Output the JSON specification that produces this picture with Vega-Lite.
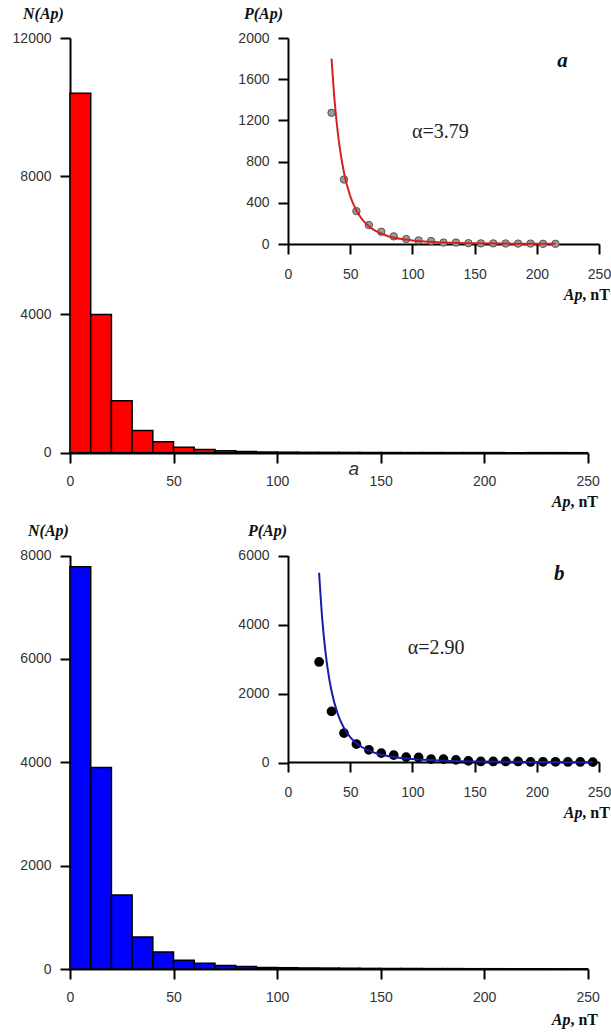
{
  "$schema": "https://vega.github.io/schema/vega-lite/v6.json",
  "width": 611,
  "height": 1034,
  "autosize": {"type": "none"},
  "padding": 0,
  "background": "white",
  "config": {
    "view": {"stroke": null},
    "axis": {
      "grid": false,
      "domainColor": "black",
      "domainWidth": 2,
      "tickColor": "black",
      "tickWidth": 2,
      "tickSize": 10,
      "labelFont": "Liberation Sans",
      "labelFontSize": 14,
      "labelColor": "#333333",
      "format": "d",
      "titleFont": "Liberation Serif",
      "titleFontSize": 16,
      "titleFontWeight": "bold",
      "titleFontStyle": "italic",
      "titleColor": "#111111"
    },
    "axisX": {"labelPadding": 11, "labelFlush": false, "labelOverlap": false},
    "axisY": {"labelPadding": 9, "titleAngle": 0, "titleAlign": "center", "titleBaseline": "middle", "labelOverlap": false},
    "text": {"font": "Liberation Serif", "fontSize": 16, "fontWeight": "bold", "color": "#111111", "baseline": "middle", "align": "right"}
  },
  "datasets": {
    "one": [{"k": 1}],
    "histA": [
      {"start": 0, "end": 10, "count": 10400},
      {"start": 10, "end": 20, "count": 4000},
      {"start": 20, "end": 30, "count": 1500},
      {"start": 30, "end": 40, "count": 640},
      {"start": 40, "end": 50, "count": 320},
      {"start": 50, "end": 60, "count": 160},
      {"start": 60, "end": 70, "count": 90},
      {"start": 70, "end": 80, "count": 55},
      {"start": 80, "end": 90, "count": 35},
      {"start": 90, "end": 100, "count": 20},
      {"start": 100, "end": 110, "count": 15},
      {"start": 110, "end": 120, "count": 12},
      {"start": 120, "end": 130, "count": 10},
      {"start": 130, "end": 140, "count": 8},
      {"start": 140, "end": 150, "count": 6},
      {"start": 150, "end": 160, "count": 5},
      {"start": 160, "end": 170, "count": 4},
      {"start": 170, "end": 180, "count": 4},
      {"start": 180, "end": 190, "count": 3},
      {"start": 190, "end": 200, "count": 3},
      {"start": 200, "end": 210, "count": 3},
      {"start": 210, "end": 220, "count": 2},
      {"start": 220, "end": 230, "count": 2},
      {"start": 230, "end": 240, "count": 2},
      {"start": 240, "end": 250, "count": 1}
    ],
    "histB": [
      {"start": 0, "end": 10, "count": 7780},
      {"start": 10, "end": 20, "count": 3900},
      {"start": 20, "end": 30, "count": 1430},
      {"start": 30, "end": 40, "count": 620},
      {"start": 40, "end": 50, "count": 330},
      {"start": 50, "end": 60, "count": 170},
      {"start": 60, "end": 70, "count": 110},
      {"start": 70, "end": 80, "count": 70},
      {"start": 80, "end": 90, "count": 50},
      {"start": 90, "end": 100, "count": 30},
      {"start": 100, "end": 110, "count": 25},
      {"start": 110, "end": 120, "count": 20},
      {"start": 120, "end": 130, "count": 18},
      {"start": 130, "end": 140, "count": 15},
      {"start": 140, "end": 150, "count": 12},
      {"start": 150, "end": 160, "count": 10},
      {"start": 160, "end": 170, "count": 10},
      {"start": 170, "end": 180, "count": 8},
      {"start": 180, "end": 190, "count": 8},
      {"start": 190, "end": 200, "count": 6},
      {"start": 200, "end": 210, "count": 6},
      {"start": 210, "end": 220, "count": 5},
      {"start": 220, "end": 230, "count": 5},
      {"start": 230, "end": 240, "count": 4},
      {"start": 240, "end": 250, "count": 4}
    ],
    "ptsA": [
      {"ap": 35, "p": 1274},
      {"ap": 45, "p": 626},
      {"ap": 55, "p": 319},
      {"ap": 65, "p": 184},
      {"ap": 75, "p": 119},
      {"ap": 85, "p": 74},
      {"ap": 95, "p": 48},
      {"ap": 105, "p": 35},
      {"ap": 115, "p": 29},
      {"ap": 125, "p": 14},
      {"ap": 135, "p": 14},
      {"ap": 145, "p": 8},
      {"ap": 155, "p": 6},
      {"ap": 165, "p": 6},
      {"ap": 175, "p": 5},
      {"ap": 185, "p": 4},
      {"ap": 195, "p": 4},
      {"ap": 205, "p": 2},
      {"ap": 215, "p": 2}
    ],
    "fitA": [
      {"ap": 35, "p": 1800},
      {"ap": 37.5, "p": 1386},
      {"ap": 40, "p": 1085},
      {"ap": 42.5, "p": 862},
      {"ap": 45, "p": 694},
      {"ap": 50, "p": 466},
      {"ap": 55, "p": 325},
      {"ap": 60, "p": 233},
      {"ap": 65, "p": 172},
      {"ap": 70, "p": 130},
      {"ap": 80, "p": 78},
      {"ap": 90, "p": 50},
      {"ap": 100, "p": 34},
      {"ap": 120, "p": 17},
      {"ap": 150, "p": 7},
      {"ap": 180, "p": 3.6},
      {"ap": 215, "p": 1.8}
    ],
    "ptsB": [
      {"ap": 25, "p": 2914},
      {"ap": 35, "p": 1481},
      {"ap": 45, "p": 852},
      {"ap": 55, "p": 532},
      {"ap": 65, "p": 368},
      {"ap": 75, "p": 271},
      {"ap": 85, "p": 213},
      {"ap": 95, "p": 155},
      {"ap": 105, "p": 145},
      {"ap": 115, "p": 97},
      {"ap": 125, "p": 97},
      {"ap": 135, "p": 77},
      {"ap": 145, "p": 48},
      {"ap": 155, "p": 30},
      {"ap": 165, "p": 30},
      {"ap": 175, "p": 30},
      {"ap": 185, "p": 30},
      {"ap": 195, "p": 15},
      {"ap": 205, "p": 20},
      {"ap": 215, "p": 20},
      {"ap": 225, "p": 15},
      {"ap": 235, "p": 15},
      {"ap": 245, "p": 10}
    ],
    "fitB": [
      {"ap": 25, "p": 5500},
      {"ap": 27.5, "p": 4172},
      {"ap": 30, "p": 3242},
      {"ap": 32.5, "p": 2570},
      {"ap": 35, "p": 2073},
      {"ap": 40, "p": 1407},
      {"ap": 45, "p": 1000},
      {"ap": 50, "p": 737},
      {"ap": 60, "p": 434},
      {"ap": 70, "p": 278},
      {"ap": 80, "p": 189},
      {"ap": 100, "p": 99},
      {"ap": 125, "p": 52},
      {"ap": 150, "p": 30},
      {"ap": 200, "p": 13},
      {"ap": 245, "p": 7}
    ]
  },
  "layer": [
    {
      "layer": [
        {
          "data": {"name": "histA"},
          "mark": {"type": "bar", "fill": "#ff0000", "stroke": "black", "strokeWidth": 1.5},
          "encoding": {
            "x": {"field": "start", "type": "quantitative",
              "scale": {"domain": [0, 250], "range": [70, 587.7], "nice": false, "zero": false},
              "axis": {"orient": "bottom", "offset": -581, "values": [0, 50, 100, 150, 200, 250], "title": null}},
            "x2": {"field": "end"},
            "y": {"field": "count", "type": "quantitative",
              "scale": {"domain": [0, 12000], "range": [452.7, 38], "nice": false},
              "axis": {"orient": "left", "offset": -70, "values": [0, 4000, 8000, 12000], "title": "N(Ap)", "titleX": -27, "titleY": 13}},
            "y2": {"datum": 0}
          }
        },
        {
          "data": {"name": "one"},
          "mark": {"type": "text", "text": "a", "font": "Liberation Sans", "fontStyle": "italic", "fontWeight": "normal", "fontSize": 19, "color": "#333333", "align": "center"},
          "encoding": {
            "x": {"datum": 137, "type": "quantitative"},
            "y": {"datum": -472, "type": "quantitative"}
          }
        },
        {
          "data": {"name": "one"},
          "mark": {"type": "text", "text": ", nT"},
          "encoding": {
            "x": {"datum": 255, "type": "quantitative"},
            "y": {"datum": -1427, "type": "quantitative"}
          }
        },
        {
          "data": {"name": "one"},
          "mark": {"type": "text", "text": "Ap", "fontStyle": "italic"},
          "encoding": {
            "x": {"datum": 241.7, "type": "quantitative"},
            "y": {"datum": -1427, "type": "quantitative"}
          }
        }
      ]
    },
    {
      "layer": [
        {
          "data": {"name": "ptsA"},
          "mark": {"type": "point", "filled": true, "fill": "#9a9a9a", "stroke": "#555555", "strokeWidth": 1, "size": 55, "opacity": 1},
          "encoding": {
            "x": {"field": "ap", "type": "quantitative",
              "scale": {"domain": [0, 250], "range": [288, 599], "nice": false, "zero": false},
              "axis": {"orient": "bottom", "offset": -790, "values": [0, 50, 100, 150, 200, 250], "labelPadding": 13, "title": null}},
            "y": {"field": "p", "type": "quantitative",
              "scale": {"domain": [0, 2000], "range": [244, 38], "nice": false},
              "axis": {"orient": "left", "offset": -288, "values": [0, 400, 800, 1200, 1600, 2000], "title": "P(Ap)", "titleX": -25, "titleY": 13}}
          }
        },
        {
          "data": {"name": "fitA"},
          "mark": {"type": "line", "color": "#d42020", "strokeWidth": 2, "interpolate": "monotone"},
          "encoding": {
            "x": {"field": "ap", "type": "quantitative"},
            "y": {"field": "p", "type": "quantitative"}
          }
        },
        {
          "data": {"name": "one"},
          "mark": {"type": "text", "text": "α=3.79", "fontWeight": "normal", "fontSize": 20, "color": "#222222", "align": "center"},
          "encoding": {
            "x": {"datum": 122.5, "type": "quantitative"},
            "y": {"datum": 1087, "type": "quantitative"}
          }
        },
        {
          "data": {"name": "one"},
          "mark": {"type": "text", "text": "a", "fontStyle": "italic", "fontSize": 21, "align": "center"},
          "encoding": {
            "x": {"datum": 220.6, "type": "quantitative"},
            "y": {"datum": 1777, "type": "quantitative"}
          }
        },
        {
          "data": {"name": "one"},
          "mark": {"type": "text", "text": ", nT"},
          "encoding": {
            "x": {"datum": 258.8, "type": "quantitative"},
            "y": {"datum": -495, "type": "quantitative"}
          }
        },
        {
          "data": {"name": "one"},
          "mark": {"type": "text", "text": "Ap", "fontStyle": "italic"},
          "encoding": {
            "x": {"datum": 236.7, "type": "quantitative"},
            "y": {"datum": -495, "type": "quantitative"}
          }
        }
      ]
    },
    {
      "layer": [
        {
          "data": {"name": "histB"},
          "mark": {"type": "bar", "fill": "#0000ff", "stroke": "black", "strokeWidth": 1.5},
          "encoding": {
            "x": {"field": "start", "type": "quantitative",
              "scale": {"domain": [0, 250], "range": [70, 587.7], "nice": false, "zero": false},
              "axis": {"orient": "bottom", "offset": -65, "values": [0, 50, 100, 150, 200, 250], "title": null}},
            "x2": {"field": "end"},
            "y": {"field": "count", "type": "quantitative",
              "scale": {"domain": [0, 8000], "range": [969, 555.5], "nice": false},
              "axis": {"orient": "left", "offset": -70, "values": [0, 2000, 4000, 6000, 8000], "title": "N(Ap)", "titleX": -22, "titleY": 530}},
            "y2": {"datum": 0}
          }
        },
        {
          "data": {"name": "one"},
          "mark": {"type": "text", "text": ", nT"},
          "encoding": {
            "x": {"datum": 255, "type": "quantitative"},
            "y": {"datum": -987, "type": "quantitative"}
          }
        },
        {
          "data": {"name": "one"},
          "mark": {"type": "text", "text": "Ap", "fontStyle": "italic"},
          "encoding": {
            "x": {"datum": 241.7, "type": "quantitative"},
            "y": {"datum": -987, "type": "quantitative"}
          }
        }
      ]
    },
    {
      "layer": [
        {
          "data": {"name": "ptsB"},
          "mark": {"type": "point", "filled": true, "fill": "#000000", "stroke": "#000000", "size": 60, "opacity": 1},
          "encoding": {
            "x": {"field": "ap", "type": "quantitative",
              "scale": {"domain": [0, 250], "range": [288, 599], "nice": false, "zero": false},
              "axis": {"orient": "bottom", "offset": -272, "values": [0, 50, 100, 150, 200, 250], "labelPadding": 13, "title": null}},
            "y": {"field": "p", "type": "quantitative",
              "scale": {"domain": [0, 6000], "range": [762.5, 555.5], "nice": false},
              "axis": {"orient": "left", "offset": -288, "values": [0, 2000, 4000, 6000], "title": "P(Ap)", "titleX": -21, "titleY": 530}}
          }
        },
        {
          "data": {"name": "fitB"},
          "mark": {"type": "line", "color": "#1a1aa8", "strokeWidth": 2, "interpolate": "monotone"},
          "encoding": {
            "x": {"field": "ap", "type": "quantitative"},
            "y": {"field": "p", "type": "quantitative"}
          }
        },
        {
          "data": {"name": "one"},
          "mark": {"type": "text", "text": "α=2.90", "fontWeight": "normal", "fontSize": 20, "color": "#222222", "align": "center"},
          "encoding": {
            "x": {"datum": 119, "type": "quantitative"},
            "y": {"datum": 3333, "type": "quantitative"}
          }
        },
        {
          "data": {"name": "one"},
          "mark": {"type": "text", "text": "b", "fontStyle": "italic", "fontSize": 21, "align": "center"},
          "encoding": {
            "x": {"datum": 218, "type": "quantitative"},
            "y": {"datum": 5478, "type": "quantitative"}
          }
        },
        {
          "data": {"name": "one"},
          "mark": {"type": "text", "text": ", nT"},
          "encoding": {
            "x": {"datum": 258.8, "type": "quantitative"},
            "y": {"datum": -1478, "type": "quantitative"}
          }
        },
        {
          "data": {"name": "one"},
          "mark": {"type": "text", "text": "Ap", "fontStyle": "italic"},
          "encoding": {
            "x": {"datum": 236.7, "type": "quantitative"},
            "y": {"datum": -1478, "type": "quantitative"}
          }
        }
      ]
    }
  ],
  "resolve": {
    "scale": {"x": "independent", "y": "independent"},
    "axis": {"x": "independent", "y": "independent"}
  }
}
